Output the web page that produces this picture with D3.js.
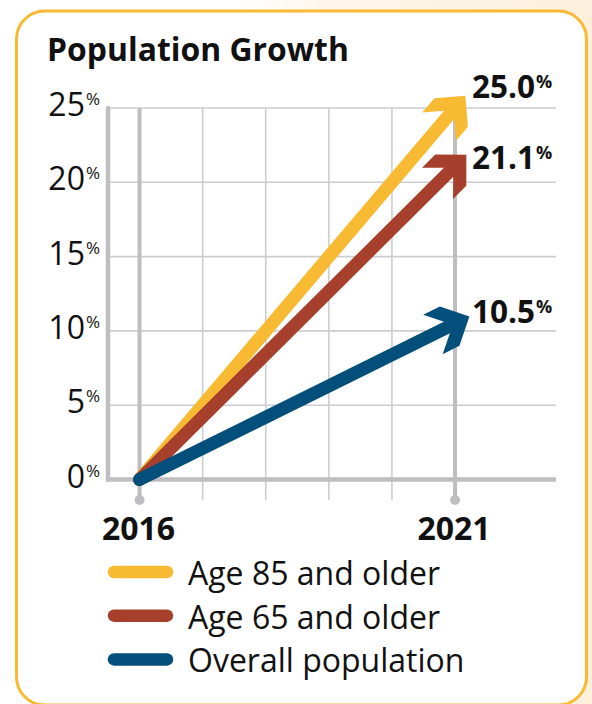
<!DOCTYPE html>
<html><head><meta charset="utf-8">
<script src="https://cdn.jsdelivr.net/npm/d3@7"></script>
<style>
html,body{margin:0;padding:0;background:#fff;}
svg{display:block;font-family:"Open Sans",sans-serif;}
</style></head>
<body>
<svg id="chart" width="592" height="704"></svg>
<script>
// ---- data ----
const title = "Population Growth";
const years = [2016, 2021];
const gridYears = [2016, 2017, 2018, 2019, 2020, 2021];
const seriesNames = ["Age 85 and older", "Age 65 and older", "Overall population"];
const startValues = [0, 0, 0];
const endValues = [25.0, 21.1, 10.5];
const valueLabels = ["25.0", "21.1", "10.5"];
const yTicks = [0, 5, 10, 15, 20, 25];
const yTickLabels = ["0", "5", "10", "15", "20", "25"];
const colors = ["#F8BA33", "#A73F2D", "#024F7C"];
const labelDy = [-10, 3, 0];

const svg = d3.select("#chart");
const W = 592, H = 704;

// background
const defs = svg.append("defs");
const g1 = defs.append("linearGradient").attr("id","bg").attr("x1","0").attr("x2","1").attr("y1","0").attr("y2","0");
g1.append("stop").attr("offset","0.4").attr("stop-color","#ffffff");
g1.append("stop").attr("offset","0.55").attr("stop-color","#FDF6EA");
g1.append("stop").attr("offset","1").attr("stop-color","#FCF0DC");
svg.append("rect").attr("width",W).attr("height",H).attr("fill","url(#bg)");

// card
svg.append("rect").attr("x",16.5).attr("y",11).attr("width",570).attr("height",694)
  .attr("rx",28).attr("fill","#fff").attr("stroke","#F8BA33").attr("stroke-width",3);

// title
svg.append("text").attr("x",47).attr("y",61).text(title)
  .attr("font-weight",700).attr("font-size",31.9).attr("fill","#111");

// scales
const x = d3.scaleLinear().domain([2015.5, 2022.6]).range([108, 556]);
const y = d3.scaleLinear().domain([0, 25]).range([479.5, 108]);

const grid = svg.append("g");
grid.selectAll("line.h").data(yTicks.filter(t => t > 0)).join("line")
  .attr("x1", x(2015.5)).attr("x2", x.range()[1])
  .attr("y1", d => y(d)).attr("y2", d => y(d))
  .attr("stroke","#CDCDCF").attr("stroke-width",1.6);
grid.selectAll("line.v").data(gridYears.filter(d => !years.includes(d))).join("line")
  .attr("x1", d => x(d)).attr("x2", d => x(d))
  .attr("y1", y(25)).attr("y2", 500)
  .attr("stroke","#CDCDCF").attr("stroke-width",1.6);
grid.selectAll("line.yr").data(years).join("line")
  .attr("x1", d => x(d)).attr("x2", d => x(d))
  .attr("y1", y(25)).attr("y2", 500)
  .attr("stroke","#BEBEC0").attr("stroke-width",4);
grid.selectAll("circle.yr").data(years).join("circle")
  .attr("cx", d => x(d)).attr("cy", 500).attr("r", 5).attr("fill","#BEBEC0");
grid.append("line").attr("x1", x(2015.5)).attr("x2", x(2015.5)).attr("y1", y(25)).attr("y2", y(0))
  .attr("stroke","#BEBEC0").attr("stroke-width",4.5).attr("stroke-linecap","round");
grid.append("line").attr("x1", x(2015.5) - 2).attr("x2", x.range()[1]).attr("y1", y(0)).attr("y2", y(0))
  .attr("stroke","#BEBEC0").attr("stroke-width",4.5);

// y tick labels
const yl = svg.append("g").selectAll("text").data(yTicks).join("text")
  .attr("x", 100).attr("y", d => y(d) + 8).attr("text-anchor","end")
  .attr("font-size", 32).attr("fill","#111");
yl.append("tspan").text((d,i) => yTickLabels[i]);
yl.append("tspan").text("%").attr("font-size",17).attr("dy",-11).attr("dx",1);

// x labels
svg.append("g").selectAll("text").data(years).join("text")
  .attr("x", d => x(d) - 1).attr("y", 540).attr("text-anchor","middle")
  .attr("font-weight",700).attr("font-size",32).attr("fill","#111").text(d => d);

// arrows
const SW = 13;
const arrows = svg.append("g");
endValues.forEach((v, i) => {
  const p0 = [x(years[0]), y(startValues[i])];
  const p1 = [x(years[1]), y(v)];
  const dx = p1[0]-p0[0], dy = p1[1]-p0[1];
  const len = Math.hypot(dx, dy);
  const d = [dx/len, dy/len];
  const n = [-d[1], d[0]];
  const tip = [p1[0] + 16*d[0], p1[1] + 16*d[1]];
  const loc = (a, b) => [tip[0] + a*d[0] + b*n[0], tip[1] + a*d[1] + b*n[1]];
  const shaftEnd = loc(-22, 0);
  const g = arrows.append("g");
  g.append("path").attr("d", d3.line()([p0, shaftEnd]))
    .attr("stroke", colors[i]).attr("stroke-width", SW).attr("stroke-linecap","round").attr("fill","none");
  const head = [[0,0],[-22,22],[-40.7,22],[-25,6.5],[-25,-6.5],[-40.7,-22],[-22,-22]].map(p => loc(p[0], p[1]));
  g.append("path").attr("d", d3.line()(head) + "Z").attr("fill", colors[i]);
});

// value labels
const vl = svg.append("g").selectAll("text").data(endValues).join("text")
  .attr("x", 472).attr("y", (d,i) => y(d) + labelDy[i])
  .attr("font-weight",700).attr("font-size",31.5).attr("fill","#111");
vl.append("tspan").text((d,i) => valueLabels[i]);
vl.append("tspan").text("%").attr("font-size",18).attr("dy",-10).attr("dx",1);

// legend
const leg = svg.append("g").selectAll("g").data(seriesNames).join("g")
  .attr("transform", (d,i) => `translate(0,${572 + i*43.7})`);
leg.append("line").attr("x1",114).attr("x2",167).attr("y1",0).attr("y2",0)
  .attr("stroke",(d,i) => colors[i]).attr("stroke-width",12.5).attr("stroke-linecap","round");
leg.append("text").attr("x",188).attr("y",13).attr("font-size",32).attr("fill","#111").text(d => d);
</script>
</body></html>
